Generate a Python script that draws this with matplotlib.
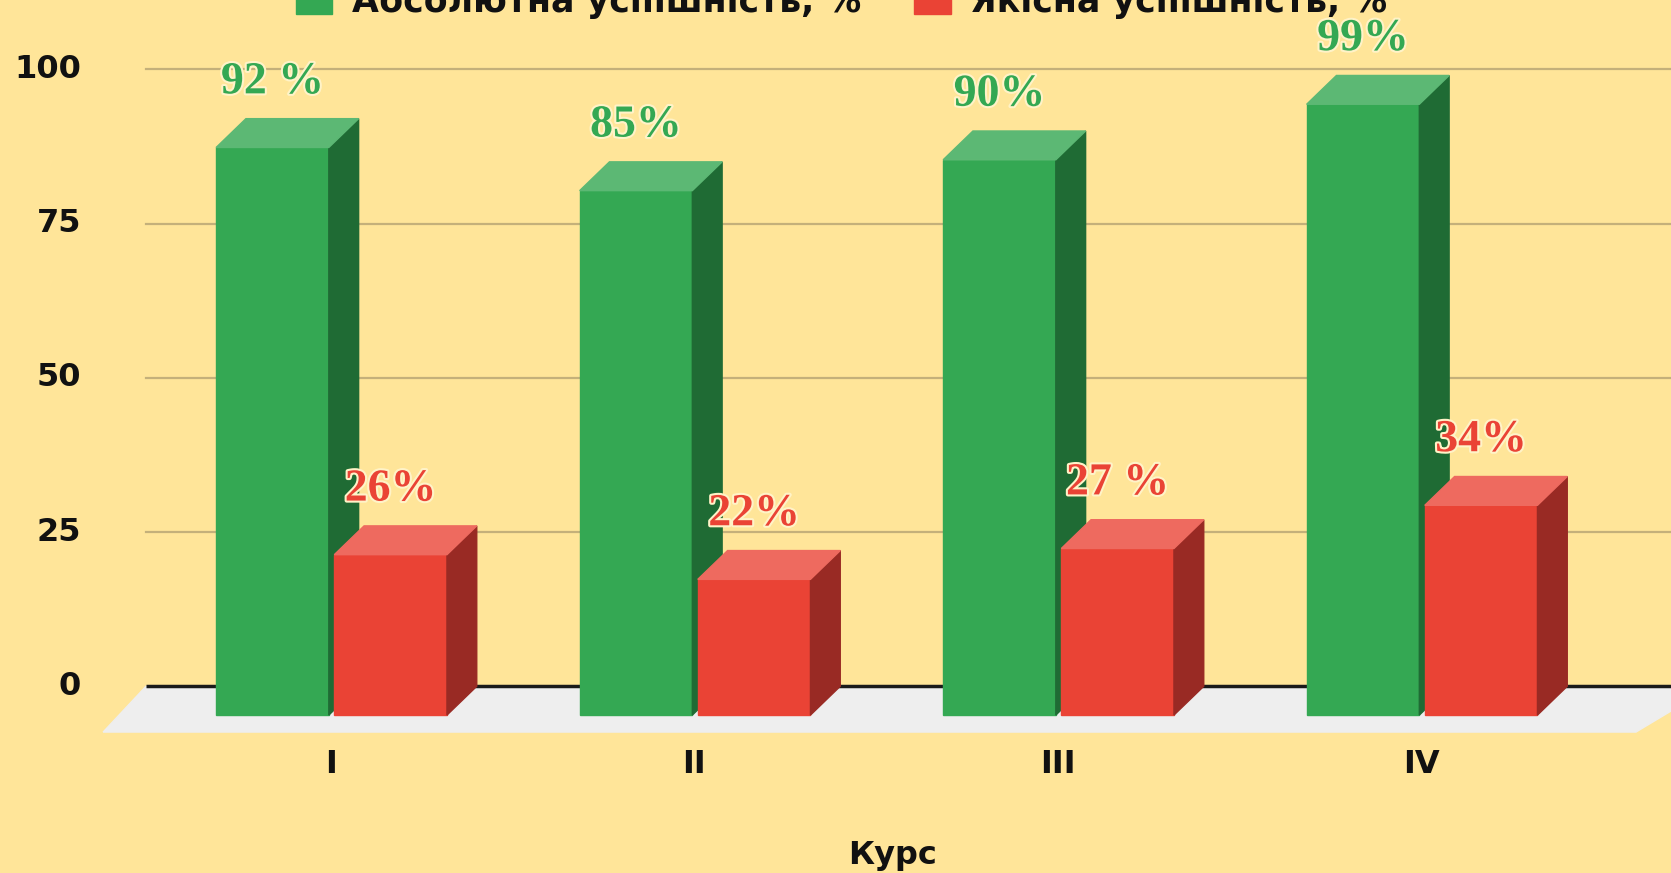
import matplotlib.pyplot as plt
from matplotlib.patches import Polygon, Rectangle
import matplotlib.patheffects as pe

courses = ['I', 'II', 'III', 'IV']
absolute = [92, 85, 90, 99]
quality = [26, 22, 27, 34]
absolute_labels = ['92 %', '85%', '90%', '99%']
quality_labels = ['26%', '22%', '27 %', '34%']
yticks = [0, 25, 50, 75, 100]
series_names = ['Абсолютна успішність, %', 'Якісна успішність, %']

bg = '#ffe599'
green = ('#34a853', '#1f6b34', '#5cb874')
red = ('#ea4335', '#992a24', '#ee6a5f')

# pseudo-3d geometry (data units)
w = 0.31
dx = 0.082
d = 4.67

fig = plt.figure(figsize=(16.71, 8.73), dpi=100, facecolor=bg)
ax = fig.add_axes([0, 0, 1, 1])
ax.set_facecolor(bg)
ax.set_xlim(-0.9106, 3.6864)
ax.set_ylim(-30.26, 111.23)
ax.axis('off')

# floor
ax.add_patch(Polygon([(-0.509, 0), (3.8, 0), (3.59, -7.42), (-0.627, -7.42)],
                     color='#eeeeee', zorder=1))

# gridlines + baseline
for t in yticks:
    if t == 0:
        ax.plot([-0.509, 3.8], [0, 0], color='#1a1a1a', lw=2.5, zorder=2,
                solid_capstyle='butt')
    else:
        ax.plot([-0.509, 3.8], [t, t], color='#c4b07a', lw=1.6, zorder=2)
    ax.text(-0.688, t, str(t), ha='right', va='center', fontsize=23,
            fontweight='bold', color='#111111')


def bar3d(x0, v, cols):
    front, side, top = cols
    ax.add_patch(Polygon([(x0, -d), (x0 + w, -d), (x0 + w, v - d), (x0, v - d)],
                         color=front, zorder=3))
    ax.add_patch(Polygon([(x0 + w, -d), (x0 + w + dx, 0), (x0 + w + dx, v),
                          (x0 + w, v - d)], color=side, zorder=3))
    ax.add_patch(Polygon([(x0, v - d), (x0 + w, v - d), (x0 + w + dx, v),
                          (x0 + dx, v)], color=top, zorder=3))


halo = [pe.withStroke(linewidth=3, foreground='#fff3c8')]
for i, c in enumerate(courses):
    gx = i - 0.316
    rx = i + 0.009
    bar3d(gx, absolute[i], green)
    bar3d(rx, quality[i], red)
    ax.text(gx + w / 2, absolute[i] + 4.1, absolute_labels[i], ha='center',
            va='baseline', fontsize=33, fontweight='bold', color=green[0],
            family='Liberation Serif', path_effects=halo, zorder=5)
    ax.text(rx + w / 2, quality[i] + 4.1, quality_labels[i], ha='center',
            va='baseline', fontsize=33, fontweight='bold', color=red[0],
            family='Liberation Serif', path_effects=halo, zorder=5)
    ax.text(i, -12.7, c, ha='center', va='center', fontsize=23,
            fontweight='bold', color='#111111')

ax.text(1.546, -27.5, 'Курс', ha='center', va='center', fontsize=23,
        fontweight='bold', color='#111111')

# legend (cut off at the top edge, as in the original)
ax.add_patch(Rectangle((-0.096, 109.0), 0.099, 6, color=green[0], clip_on=False))
ax.text(0.058, 109.3, series_names[0], ha='left', va='baseline', fontsize=25,
        fontweight='bold', color='#111111')
ax.add_patch(Rectangle((1.604, 109.0), 0.102, 6, color=red[0], clip_on=False))
ax.text(1.758, 109.3, series_names[1], ha='left', va='baseline', fontsize=25,
        fontweight='bold', color='#111111')

plt.savefig('out.png', dpi=100, facecolor=bg)
